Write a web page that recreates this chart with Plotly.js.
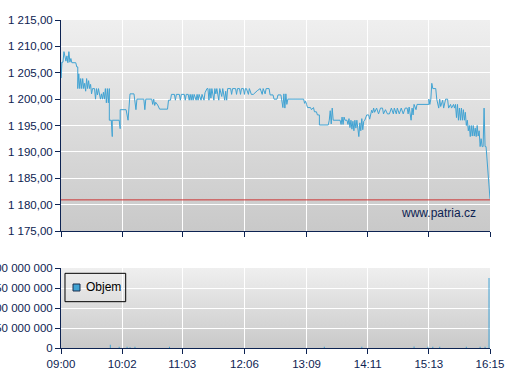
<!DOCTYPE html>
<html>
<head>
<meta charset="utf-8">
<script src="https://cdn.plot.ly/plotly-3.0.1.min.js"></script>
<style>
  html, body { margin: 0; padding: 0; background: #ffffff; }
  #wrap { position: relative; width: 507px; height: 380px; }
  .bg { position: absolute; z-index: 0; background: linear-gradient(to bottom, #efefef, #c9c9c9); }
  #chart { position: absolute; left: 0; top: 0; width: 507px; height: 380px; z-index: 1; }
</style>
</head>
<body>
<div id="wrap">
  <div class="bg" style="left:61px; top:20px; width:429px; height:211px;"></div>
  <div class="bg" style="left:61px; top:268px; width:429px; height:80px;"></div>
  <div id="chart"></div>
</div>
<script>
// ---- data ----
const priceTimes = [
"09:00","09:00","09:01","09:02","09:03","09:05","09:06","09:07","09:08","09:09","09:10","09:11","09:15","09:16","09:17","09:17",
"09:18","09:19","09:20","09:21","09:22","09:23","09:24","09:25","09:26","09:27","09:28","09:29","09:30","09:31","09:32","09:34",
"09:35","09:36","09:37","09:38","09:40","09:41","09:42","09:43","09:44","09:45","09:46","09:47","09:48","09:49","09:49","09:51",
"09:52","09:52","09:59","10:00","10:00","10:06","10:08","10:09","10:10","10:14","10:15","10:16","10:17","10:24","10:25","10:26",
"10:32","10:33","10:34","10:35","10:36","10:38","10:40","10:48","10:49","10:51","10:52","10:55","10:56","10:57","11:00","11:01",
"11:02","11:05","11:06","11:07","11:09","11:10","11:11","11:12","11:13","11:14","11:15","11:17","11:18","11:19","11:20","11:22",
"11:23","11:25","11:26","11:28","11:29","11:30","11:31","11:32","11:33","11:35","11:36","11:37","11:38","11:40","11:41","11:43",
"11:44","11:46","11:47","11:48","11:49","11:52","11:53","11:54","11:57","11:58","11:59","12:01","12:02","12:03","12:05","12:06",
"12:07","12:08","12:10","12:11","12:13","12:15","12:19","12:22","12:24","12:25","12:27","12:28","12:31","12:32","12:35","12:36",
"12:39","12:40","12:43","12:44","12:45","12:46","12:47","12:48","12:49","12:50","13:06","13:07","13:08","13:09","13:10","13:13",
"13:14","13:16","13:17","13:19","13:20","13:22","13:22","13:31","13:32","13:33","13:34","13:35","13:36","13:43","13:44","13:45",
"13:46","13:47","13:48","13:50","13:51","13:52","13:53","13:54","13:55","13:56","13:57","13:58","13:59","14:00","14:01","14:02",
"14:03","14:04","14:05","14:06","14:07","14:08","14:10","14:12","14:13","14:15","14:16","14:17","14:18","14:20","14:22","14:24",
"14:26","14:27","14:29","14:31","14:33","14:35","14:37","14:38","14:40","14:41","14:43","14:45","14:47","14:49","14:51","14:52",
"14:53","14:55","14:56","14:57","14:58","15:00","15:01","15:13","15:13","15:14","15:15","15:16","15:17","15:20","15:21","15:23",
"15:24","15:25","15:27","15:28","15:30","15:32","15:33","15:35","15:36","15:38","15:39","15:40","15:41","15:42","15:43","15:44",
"15:45","15:46","15:47","15:48","15:49","15:50","15:51","15:52","15:53","15:54","15:55","15:56","15:57","15:58","15:59","16:00",
"16:01","16:02","16:03","16:04","16:05","16:06","16:07","16:08","16:09","16:10","16:11","16:15"
];
const prices = [
1207.0,1204.0,1207.0,1207.0,1209.0,1207.2,1208.2,1206.9,1209.0,1207.0,1207.7,1206.9,1206.9,1206.1,1206.1,1202.0,
1204.8,1202.0,1203.9,1202.0,1203.9,1202.0,1203.0,1201.5,1203.9,1202.0,1203.5,1202.0,1202.8,1201.0,1202.0,1202.0,
1200.0,1202.0,1200.8,1202.0,1200.0,1201.0,1200.0,1201.3,1200.0,1202.0,1199.3,1202.0,1199.3,1202.0,1196.0,1196.0,
1192.9,1196.0,1196.0,1194.4,1198.0,1198.0,1196.0,1199.0,1201.0,1201.0,1199.0,1198.0,1200.0,1200.0,1198.0,1200.0,
1200.0,1199.0,1200.0,1198.8,1199.4,1198.9,1198.1,1198.1,1199.8,1199.8,1200.9,1200.9,1199.8,1200.9,1200.9,1199.8,
1200.9,1200.9,1199.8,1200.9,1200.9,1199.8,1200.9,1199.8,1200.9,1199.8,1200.9,1199.8,1200.9,1199.8,1200.9,1199.8,
1200.9,1199.8,1201.2,1202.0,1202.0,1199.8,1202.0,1200.2,1202.0,1199.8,1202.0,1201.0,1202.0,1199.8,1202.0,1200.5,
1202.0,1199.8,1201.5,1199.8,1202.0,1202.0,1200.9,1202.0,1202.0,1200.9,1202.0,1202.0,1200.9,1202.0,1202.0,1200.9,
1202.0,1202.0,1200.9,1202.0,1200.9,1200.9,1201.6,1202.0,1200.9,1202.0,1201.0,1202.0,1202.0,1200.8,1200.8,1200.0,
1200.0,1200.8,1200.8,1199.2,1198.4,1201.0,1198.3,1201.0,1199.0,1200.0,1200.0,1199.2,1199.6,1199.0,1198.4,1198.4,
1198.0,1198.4,1197.6,1197.6,1197.0,1197.0,1195.1,1195.1,1196.0,1197.8,1195.3,1198.3,1196.0,1196.0,1195.2,1196.6,
1195.2,1196.6,1196.0,1196.0,1195.2,1196.3,1194.6,1196.0,1194.3,1195.8,1194.0,1196.0,1194.5,1196.0,1194.0,1192.9,
1195.5,1194.0,1196.3,1194.2,1195.8,1196.0,1197.0,1197.0,1196.2,1197.9,1197.4,1198.3,1197.5,1198.3,1197.2,1198.3,
1198.3,1197.2,1198.0,1197.2,1197.2,1198.3,1197.2,1198.3,1197.2,1198.3,1197.2,1198.3,1197.2,1198.3,1198.3,1197.2,
1198.5,1196.0,1198.3,1197.0,1199.0,1198.0,1199.0,1199.0,1200.0,1199.0,1200.0,1203.0,1202.0,1202.0,1200.0,1198.3,
1200.0,1198.6,1199.8,1198.3,1200.0,1200.0,1198.3,1199.0,1198.3,1199.0,1198.3,1199.0,1196.5,1199.0,1196.0,1198.3,
1196.0,1198.3,1196.0,1198.0,1196.0,1197.5,1195.0,1196.0,1194.0,1195.0,1192.9,1195.0,1193.0,1195.0,1193.0,1194.5,
1192.9,1195.0,1193.0,1194.0,1191.0,1192.5,1191.0,1191.0,1198.3,1191.0,1191.0,1181.1
];
const prevClose = 1180.9;

const volumeTimes = ["09:50","09:59","10:07","10:10","10:15","10:50","13:27","14:05","14:58","15:12","15:17","15:24","15:51","16:05","16:10","16:14"];
const volumes     = [8e6, 3e6, 3e6, 2e6, 3e6, 3e6, 3e6, 3e6, 4e6, 3e6, 3e6, 3e6, 3e6, 3e6, 3e6, 175e6];

const tickLabels = ["09:00","10:02","11:03","12:06","13:09","14:11","15:13","16:15"];
const watermark = "www.patria.cz";
const volumeName = "Objem";

// ---- helpers ----
function toMin(t) { const p = t.split(":"); return (+p[0]) * 60 + (+p[1]) - 540; }
const px = priceTimes.map(toMin);
const vx = volumeTimes.map(toMin);
const tickVals = tickLabels.map(toMin);

const NAVY = "#0d2352";
const LINE = "#41a3d3";
const FONT = "Liberation Sans, Arial, sans-serif";

const axisCommon = {
  showline: true, linecolor: NAVY, linewidth: 1,
  ticks: "outside", ticklen: 5, tickcolor: NAVY, tickwidth: 1,
  showgrid: true, gridcolor: "#ffffff", gridwidth: 1,
  zeroline: false,
  tickfont: { family: FONT, size: 11.5, color: NAVY }
};

const traces = [
  { type: "scatter", mode: "lines", x: px, y: prices, xaxis: "x", yaxis: "y",
    line: { color: LINE, width: 1 }, showlegend: false, hoverinfo: "skip" },
  { type: "bar", x: vx, y: volumes, xaxis: "x2", yaxis: "y2", name: volumeName,
    width: 1, marker: { color: LINE }, showlegend: false }
];

const layout = {
  width: 507, height: 380,
  margin: { l: 61, r: 17, t: 20, b: 32 },
  paper_bgcolor: "rgba(0,0,0,0)", plot_bgcolor: "rgba(0,0,0,0)",
  separators: ", ",
  font: { family: FONT, size: 12, color: NAVY },
  xaxis: Object.assign({}, axisCommon, { anchor: "y", domain: [0, 1], range: [0, 435],
    tickmode: "array", tickvals: tickVals, ticktext: tickLabels, showticklabels: false }),
  xaxis2: Object.assign({}, axisCommon, { anchor: "y2", domain: [0, 1], range: [0, 435],
    tickmode: "array", tickvals: tickVals, ticktext: tickLabels, showticklabels: true }),
  yaxis: Object.assign({}, axisCommon, { anchor: "x", domain: [0.3567, 1], range: [1175, 1215],
    dtick: 5, tick0: 1175, tickformat: ",.2f" }),
  yaxis2: Object.assign({}, axisCommon, { anchor: "x2", domain: [0, 0.2439], range: [0, 200e6],
    dtick: 50e6, tick0: 0, tickformat: ",d" }),
  shapes: [
    { type: "line", xref: "x domain", yref: "y", x0: 0, x1: 1, y0: prevClose, y1: prevClose,
      line: { color: "#cc3333", width: 1 } },
    // legend box
    { type: "rect", xref: "paper", yref: "paper", x0: 0.0093, x1: 0.1508, y0: 0.1412, y1: 0.2277,
      line: { color: "#000000", width: 1 }, fillcolor: "rgba(0,0,0,0)" },
    // legend swatch
    { type: "rect", xref: "paper", yref: "paper", x0: 0.0280, x1: 0.0443, y0: 0.1738, y1: 0.1951,
      line: { color: "#1b2f4f", width: 1 }, fillcolor: LINE }
  ],
  annotations: [
    { text: watermark, xref: "paper", yref: "paper", x: 0.879, y: 0.4116,
      xanchor: "center", yanchor: "middle", showarrow: false,
      font: { family: FONT, size: 12, color: NAVY } },
    { text: volumeName, xref: "paper", yref: "paper", x: 0.0536, y: 0.1845,
      xanchor: "left", yanchor: "middle", showarrow: false,
      font: { family: FONT, size: 12, color: "#000000" } }
  ],
  showlegend: false
};

Plotly.newPlot("chart", traces, layout, { displayModeBar: false, staticPlot: true });
</script>
</body>
</html>
